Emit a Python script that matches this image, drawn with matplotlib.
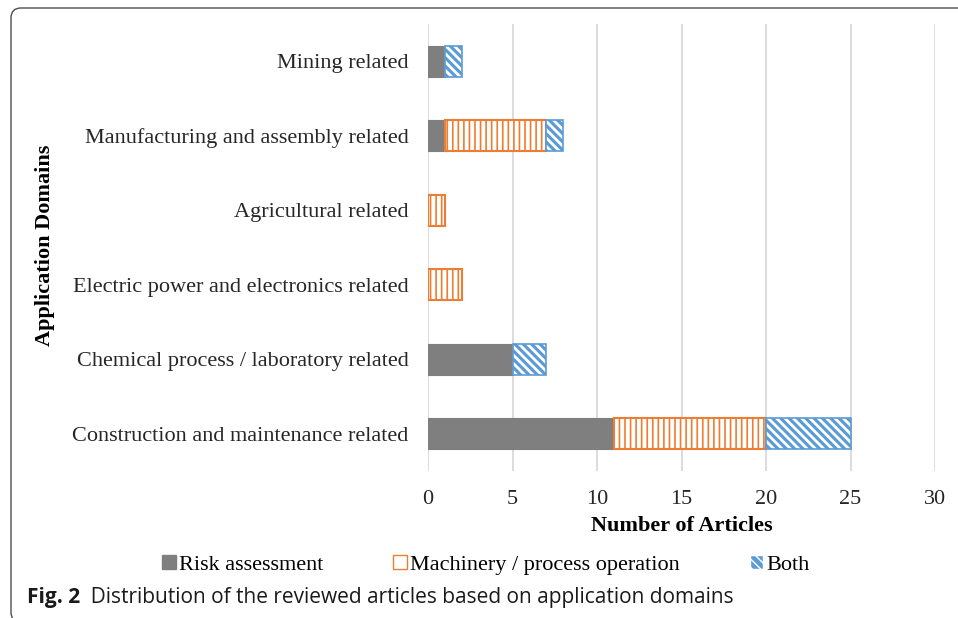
import numpy as np
import matplotlib
matplotlib.use("Agg")
import matplotlib.pyplot as plt
from matplotlib.patches import FancyBboxPatch, Patch
from matplotlib.transforms import IdentityTransform

domains = ["Mining related", "Manufacturing and assembly related", "Agricultural related",
           "Electric power and electronics related", "Chemical process / laboratory related",
           "Construction and maintenance related"]
risk = [1, 1, 0, 0, 5, 11]
machinery = [0, 6, 1, 2, 0, 9]
both = [1, 1, 0, 0, 2, 5]
series_names = ["Risk assessment", "Machinery / process operation", "Both"]
xticks = [0, 5, 10, 15, 20, 25, 30]

GRAY = "#7F7F7F"
ORANGE = "#ED7D31"
BLUE = "#5B9BD5"
FS = 16

plt.rcParams['font.family'] = ['Liberation Serif', 'DejaVu Serif']

fig = plt.figure(figsize=(9.58, 6.18), dpi=100)
W, H = 958, 618
ax = fig.add_axes([428 / W, 1 - 471 / H, (935 - 428) / W, (471 - 24) / H])

y = np.arange(len(domains))
risk = np.array(risk)
machinery = np.array(machinery)
both = np.array(both)
h = 0.42

m = risk > 0
ax.barh(y[m], risk[m], height=h, color=GRAY, edgecolor=GRAY, linewidth=0.8, zorder=3)
m = machinery > 0
with plt.rc_context({'hatch.linewidth': 1.2}):
    ax.barh(y[m], machinery[m], left=risk[m], height=h, color="white", edgecolor=ORANGE,
            hatch="|||", linewidth=1.5, zorder=3)
m = both > 0
with plt.rc_context({'hatch.linewidth': 2.0}):
    ax.barh(y[m], both[m], left=(risk + machinery)[m], height=h, color=BLUE,
            edgecolor="white", hatch="\\\\\\\\", linewidth=0, zorder=3)
ax.barh(y[m], both[m], left=(risk + machinery)[m], height=h, fill=False, edgecolor=BLUE,
        linewidth=1.2, zorder=4)

ax.set_ylim(len(domains) - 0.5, -0.5)
ax.set_xlim(0, 30)
ax.set_xticks(xticks)
ax.set_yticks(y)
ax.set_yticklabels(domains)
ax.tick_params(axis='both', length=0, labelsize=FS, colors="#262626")
ax.tick_params(axis='y', pad=14)
ax.tick_params(axis='x', pad=14)
ax.xaxis.grid(True, color="#D9D9D9", linewidth=1.3, zorder=0)
ax.set_axisbelow(True)
for s in ax.spines.values():
    s.set_visible(False)
ax.set_xlabel("Number of Articles", fontsize=FS, fontweight="bold", labelpad=5)
fig.text(45 / W, 1 - 245 / H, "Application Domains", rotation=90, fontsize=FS,
         fontweight="bold", ha="center", va="center")

# legend
with plt.rc_context({'hatch.linewidth': 1.2}):
    handles = [Patch(facecolor=GRAY, edgecolor=GRAY),
               Patch(facecolor="white", edgecolor=ORANGE, hatch="|"),
               Patch(facecolor=BLUE, edgecolor="white", hatch="\\\\\\\\")]
fig.legend(handles, series_names, loc="center", bbox_to_anchor=(486 / W, 1 - 565 / H),
           ncol=3, frameon=False, fontsize=FS, handlelength=0.6, handleheight=0.6,
           handletextpad=0.15, columnspacing=3.15)

# caption
cap_font = ["Open Sans", "DejaVu Sans"]
t1 = fig.text(27 / W, 1 - 598 / H, "Fig. 2", fontsize=15, fontweight="bold",
              family=cap_font, va="center", color="#1a1a1a")
ax.annotate("  Distribution of the reviewed articles based on application domains",
            xy=(1, 0.5), xycoords=t1, va="center", ha="left", fontsize=15,
            family=cap_font, color="#1a1a1a", annotation_clip=False)

# rounded frame, open at the bottom and right edges of the image
frame = FancyBboxPatch((11, -4), 1000, H - 8 + 4,
                       boxstyle="round,pad=0,rounding_size=10",
                       transform=IdentityTransform(), fill=False,
                       edgecolor="#4d4d4d", linewidth=1.0)
fig.patches.append(frame)

fig.savefig("out.png", dpi=100)
